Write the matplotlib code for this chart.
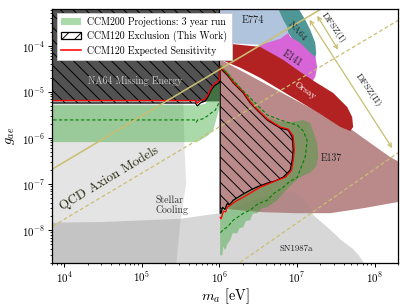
import numpy as np
import matplotlib
matplotlib.use('Agg')
import matplotlib.pyplot as plt
from matplotlib.patches import Patch
from matplotlib.lines import Line2D

plt.rcParams['font.family'] = 'serif'
plt.rcParams['font.serif'] = ['cmr10']
plt.rcParams['mathtext.fontset'] = 'cm'
plt.rcParams['axes.formatter.use_mathtext'] = True
plt.rcParams['hatch.linewidth'] = 0.6

# ---------------- data (log10 m_a [eV], log10 g_ae) ----------------
stellar_lm = [3.5, 5.53, 5.55, 5.572, 5.495, 5.40, 3.5]
stellar_lg = [-5.0, -5.0, -6.26, -6.98, -7.83, -9.5, -9.5]

sn_lm = [3.5, 4.5, 5.5, 6.0, 6.27, 6.53, 6.78, 6.95, 7.07, 7.17, 7.21, 7.39, 7.50, 7.56, 7.64, 7.72, 7.80, 7.86, 7.90, 3.5]
sn_lg = [-7.84, -7.82, -7.75, -7.63, -7.45, -7.30, -7.19, -7.17, -7.30, -7.52, -7.67, -7.93, -8.10, -8.20, -8.30, -8.40, -8.55, -8.70, -9.5, -9.5]

na64me_lm = [3.5, 5.68, 5.70, 5.72, 6.0, 6.0, 3.5]
na64me_lg = [-5.21, -5.21, -5.26, -5.21, -5.21, -3.0, -3.0]

e137_lm = [6.009, 7.0, 7.711, 7.982, 8.201, 8.5, 8.5, 8.291, 7.853, 7.428, 7.003, 6.564, 6.268, 6.009]
e137_lg = [-4.30, -5.20, -5.829, -6.154, -6.414, -6.68, -7.36, -7.39, -7.521, -7.629, -7.629, -7.608, -7.564, -7.521]

e774_lm = [6.009, 6.009, 6.526, 6.784, 6.90, 6.85]
e774_lg = [-3.0, -3.941, -3.985, -3.90, -3.70, -3.0]

na64v_lm = [6.70, 6.758, 6.822, 6.874, 6.887, 7.0, 7.235, 7.247, 7.235, 7.17, 7.106, 7.02, 6.98]
na64v_lg = [-3.0, -3.204, -3.443, -3.594, -3.725, -4.0, -4.30, -4.158, -3.941, -3.659, -3.443, -3.204, -3.0]

e141_lm = [6.526, 6.655, 6.784, 6.887, 6.912, 7.041, 7.17, 7.235, 7.26, 7.235, 7.17, 7.041, 6.655, 6.461]
e141_lg = [-3.985, -3.92, -3.855, -3.725, -3.811, -3.941, -4.158, -4.245, -4.462, -4.679, -4.852, -4.852, -4.31, -4.093]

orsay_lm = [6.009, 6.526, 6.822, 7.041, 7.235, 7.466, 7.647, 7.711, 7.724, 7.686, 7.557, 7.299, 7.041, 6.784, 6.526, 6.268, 6.009]
orsay_lg = [-3.941, -4.03, -4.31, -4.57, -4.787, -5.026, -5.330, -5.547, -5.764, -5.850, -5.76, -5.48, -5.22, -4.96, -4.70, -4.48, -4.30]

ccm200_left_lm = [3.5, 5.68, 5.70, 5.72, 5.82, 5.86, 5.90, 5.94, 5.97, 6.0, 6.0, 5.92, 5.85, 5.75, 5.71, 3.5]
ccm200_left_lg = [-5.29, -5.29, -5.33, -5.29, -5.26, -5.12, -4.97, -4.87, -4.81, -4.80, -5.35, -5.83, -5.95, -6.05, -6.09, -6.09]

ccm200_right_lm = [6.009, 6.101, 6.178, 6.307, 6.436, 6.616, 6.784, 6.951, 7.08, 7.17, 7.26, 7.273, 7.247, 7.17,
                   7.04, 6.951, 6.822, 6.745, 6.616, 6.55, 6.487, 6.43, 6.397, 6.34, 6.307, 6.26, 6.229, 6.17, 6.139,
                   6.10, 6.075, 6.05, 6.036, 6.009]
ccm200_right_lg = [-4.40, -4.549, -4.722, -4.961, -5.221, -5.547, -5.655, -5.655, -5.612, -5.677, -6.111, -6.414, -6.61, -6.75,
                   -6.85, -6.978, -7.195, -7.347, -7.499, -7.52, -7.629, -7.64, -7.781, -7.80, -7.933, -7.95, -8.063, -8.06, -8.215,
                   -8.30, -8.432, -8.35, -8.54, -8.54]

ccm200_med_left_lm = [3.5, 5.68, 5.70, 5.72, 5.78, 5.85, 5.90, 5.946, 5.99]
ccm200_med_left_lg = [-5.61, -5.61, -5.66, -5.61, -5.59, -5.52, -5.45, -5.40, -5.25]

ccm200_med_right_lm = [6.009, 6.139, 6.268, 6.436, 6.616, 6.784, 6.912, 7.003, 7.08, 7.131, 7.106, 7.003, 6.90, 6.822,
                       6.70, 6.616, 6.50, 6.397, 6.30, 6.178, 6.101, 6.05, 6.009]
ccm200_med_right_lg = [-4.44, -4.68, -4.92, -5.20, -5.50, -5.61, -5.68, -5.72, -5.85, -6.05, -6.41, -6.85, -6.95, -7.07,
                       -7.20, -7.35, -7.42, -7.56, -7.64, -7.78, -7.93, -7.98, -8.06]

ccm120_left_lm = [3.5, 5.688, 5.714, 5.753, 5.817, 5.856, 5.894, 5.933, 5.972, 6.0, 6.0, 3.5]
ccm120_left_lg = [-5.243, -5.243, -5.308, -5.243, -5.20, -5.09, -4.961, -4.874, -4.831, -4.80, -3.0, -3.0]

ccm120_right_lm = [6.009, 6.101, 6.178, 6.307, 6.397, 6.487, 6.616, 6.719, 6.784, 6.887, 6.938, 6.951, 6.938, 6.912,
                   6.822, 6.719, 6.616, 6.50, 6.397, 6.30, 6.178, 6.13, 6.10, 6.07, 6.04, 6.02, 6.009]
ccm120_right_lg = [-4.484, -4.636, -4.809, -5.026, -5.243, -5.40, -5.612, -5.72, -5.785, -5.83, -5.98, -6.26, -6.48, -6.696,
                   -6.848, -6.93, -6.978, -7.05, -7.13, -7.22, -7.347, -7.45, -7.42, -7.55, -7.50, -7.63, -7.629]

exp_left_lm = [3.5, 5.688, 5.714, 5.753, 5.817, 5.856, 5.894, 5.933, 5.972, 6.0, 6.009]
exp_left_lg = [-5.19, -5.19, -5.25, -5.19, -5.156, -5.048, -4.918, -4.831, -4.787, -4.744, -4.46]

exp_right_lm = [6.009, 6.101, 6.178, 6.307, 6.397, 6.487, 6.616, 6.719, 6.784, 6.887, 6.95, 6.965, 6.95, 6.93, 6.85,
                6.745, 6.526, 6.307, 6.20, 6.139, 6.10, 6.08, 6.05, 6.036, 6.02, 6.009]
exp_right_lg = [-4.46, -4.615, -4.79, -5.005, -5.22, -5.38, -5.59, -5.70, -5.765, -5.81, -5.96, -6.26, -6.50, -6.70, -6.85,
                -6.913, -7.065, -7.282, -7.38, -7.456, -7.50, -7.60, -7.58, -7.673, -7.75, -7.72]

qcd_solid_lm = [3.5, 8.5]
qcd_solid_lg = [-7.02, -2.02]
qcd_dash_lm = [3.5, 8.5]
qcd_dash_lg = [-8.26, -3.26]
dfsz2_low_lm = [6.0, 8.5]
dfsz2_low_lg = [-9.005, -6.093]
dfsz1_arrow_lm = [7.26, 7.53]
dfsz1_arrow_lg = [-3.355, -4.09]
dfsz2_arrow_lm = [7.16, 8.227]
dfsz2_arrow_lg = [-3.44, -6.219]

legend_labels = ['CCM200 Projections: 3 year run', 'CCM120 Exclusion (This Work)', 'CCM120 Expected Sensitivity']

# ---------------- figure ----------------
DPI = 114
fig = plt.figure(figsize=(407.4 / DPI, 305.4 / DPI), dpi=DPI)
ax = fig.add_axes([0.1285, 0.1387, 0.8482, 0.8318])
ax.set_xscale('log')
ax.set_yscale('log')


def P(a):
    return 10 ** np.asarray(a, dtype=float)


gray = (0.5, 0.5, 0.5, 0.21)
green = (0.17, 0.63, 0.17, 0.40)
khaki = '#c9bf72'
HATCH = '\\\\\\'

ax.fill(P(stellar_lm), P(stellar_lg), color=gray, lw=0)
ax.fill(P(sn_lm), P(sn_lg), color=gray, lw=0)
ax.fill(P(na64me_lm), P(na64me_lg), color='#525252', lw=0)
ax.fill(P(e137_lm), P(e137_lg), color='#ba8a8a', lw=0)
ax.fill(P(e774_lm), P(e774_lg), color='#b0c4de', lw=0)
ax.fill(P(na64v_lm), P(na64v_lg), color='#4f9797', lw=0)
ax.fill(P(e141_lm), P(e141_lg), color='#d765d7', lw=0)
ax.fill(P(orsay_lm), P(orsay_lg), color='#b22222', lw=0)
# SN overlap on top of E137 (darker bump)
ax.fill(P(sn_lm), P(sn_lg), color=(0.5, 0.5, 0.5, 0.12), lw=0)

ax.fill(P(ccm200_left_lm), P(ccm200_left_lg), color=green, lw=0)
ring_lm = list(ccm200_right_lm) + list(ccm120_right_lm[::-1])
ring_lg = list(ccm200_right_lg) + list(ccm120_right_lg[::-1])
ax.fill(P(ring_lm), P(ring_lg), color=green, lw=0)

ax.fill(P(ccm120_left_lm), P(ccm120_left_lg), facecolor='none', edgecolor='k', hatch=HATCH, lw=0.8)
ax.fill(P(ccm120_right_lm), P(ccm120_right_lg), facecolor='none', edgecolor='k', hatch=HATCH, lw=0.8)

ax.plot(P(exp_left_lm), P(exp_left_lg), color='red', lw=0.8)
ax.plot(P(exp_right_lm), P(exp_right_lg), color='red', lw=0.8)

ax.plot(P(ccm200_med_left_lm), P(ccm200_med_left_lg), color='green', lw=0.7, ls=(0, (3, 2)))
ax.plot(P(ccm200_med_right_lm), P(ccm200_med_right_lg), color='green', lw=0.7, ls=(0, (3, 2)))

ax.plot(P(qcd_solid_lm), P(qcd_solid_lg), color=khaki, lw=1.0)
ax.plot(P(qcd_dash_lm), P(qcd_dash_lg), color=khaki, lw=0.8, ls=(0, (3, 2)))
ax.plot(P(dfsz2_low_lm), P(dfsz2_low_lg), color=khaki, lw=0.8, ls=(0, (3, 2)))

for lm, lg in [(dfsz1_arrow_lm, dfsz1_arrow_lg), (dfsz2_arrow_lm, dfsz2_arrow_lg)]:
    ax.annotate('', xy=(P(lm[1]), P(lg[1])), xytext=(P(lm[0]), P(lg[0])),
                arrowprops=dict(arrowstyle='<->', color=khaki, lw=0.8, mutation_scale=6,
                                shrinkA=0, shrinkB=0))

# ---------------- labels ----------------
txt = '#222222'
ax.text(P(4.915), P(-4.766), 'NA64 Missing Energy', color='#c8c8c8', fontsize=6.2, ha='center', va='center')
ax.text(P(6.436), P(-3.443), 'E774', color=txt, fontsize=6.5, ha='center', va='center')
ax.text(P(7.003), P(-3.68), 'NA64', color=txt, fontsize=6.0, ha='center', va='center', rotation=-48)
ax.text(P(6.938), P(-4.267), 'E141', color=txt, fontsize=6.3, ha='center', va='center', rotation=-33)
ax.text(P(7.106), P(-4.961), 'Orsay', color='white', fontsize=6.0, ha='center', va='center', rotation=-35)
ax.text(P(7.441), P(-6.436), 'E137', color=txt, fontsize=6.2, ha='center', va='center')
ax.text(P(5.173), P(-7.438), 'Stellar\nCooling', color='#333333', fontsize=6.2, ha='left', va='center',
        linespacing=1.0)
ax.text(P(6.99), P(-8.39), 'SN1987a', color=txt, fontsize=5.6, ha='center', va='center')
ax.text(P(4.58), P(-6.87), 'QCD Axion Models', color='#2a2a10', fontsize=8.3, ha='center', va='center', rotation=31)
ax.text(P(7.466), P(-3.616), 'DFSZ(I)', color=txt, fontsize=6.0, ha='center', va='center', rotation=-55)
ax.text(P(7.918), P(-4.963), 'DFSZ(II)', color=txt, fontsize=6.0, ha='center', va='center', rotation=-55)

ax.set_xlim(7e3, 2e8)
ax.set_ylim(2e-9, 6.3e-4)
ax.set_xlabel(r'$m_a$ [eV]', fontsize=9, labelpad=0.5)
ax.set_ylabel(r'$g_{ae}$', fontsize=9, labelpad=3)
ax.tick_params(which='major', direction='out', length=2.5, width=0.6, labelsize=7, top=False, right=False, pad=2)
ax.tick_params(which='minor', direction='out', length=1.4, width=0.5, top=False, right=False)
for s in ax.spines.values():
    s.set_linewidth(0.8)

handles = [Patch(facecolor=green, edgecolor='none'),
           Patch(facecolor='white', edgecolor='k', hatch='///', lw=0.8),
           Line2D([], [], color='red', lw=1.0)]
leg = ax.legend(handles, legend_labels, loc='upper left', bbox_to_anchor=(0.0136, 0.984), borderaxespad=0,
                fontsize=6.2, handlelength=2.0, handletextpad=0.6, labelspacing=0.35, framealpha=1,
                fancybox=False, edgecolor='0.8', borderpad=0.45)
leg.get_frame().set_linewidth(0.6)

fig.savefig('out.png', dpi=DPI)
